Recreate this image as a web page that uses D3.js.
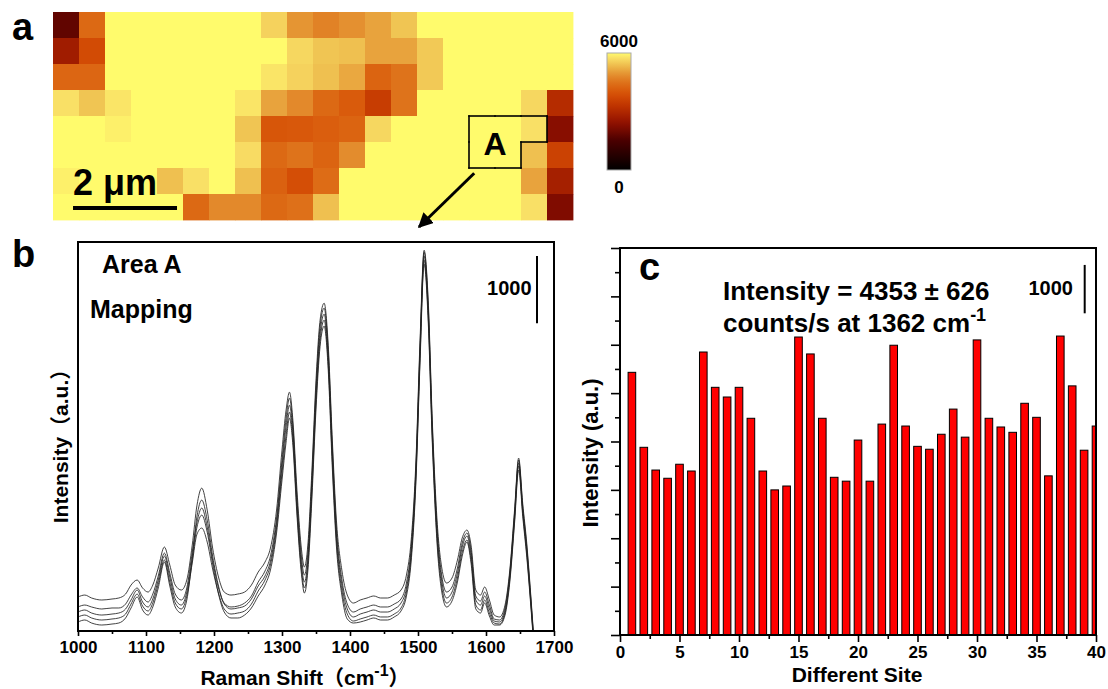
<!DOCTYPE html>
<html><head><meta charset="utf-8">
<script src="https://cdn.jsdelivr.net/npm/d3@7"></script>
<style>
html,body{margin:0;padding:0;background:#fff;}
svg{display:block;font-family:"Liberation Sans",Arial,Helvetica,sans-serif;font-weight:bold;}
</style></head><body>
<svg id="fig" width="1108" height="689"></svg>
<script>
// ---------------- (a) SERS mapping, counts/s at 1362 cm-1 ----------------
const heatRows = [
  [1800,4350,6000,6000,6000,6000,6000,6000,5600,4950,4700,4900,5100,5450,6000,6000,6000,6000,6000,6000],
  [2700,3800,6000,6000,6000,6000,6000,6000,6000,5650,5450,5400,5100,5100,5500,6000,6000,6000,6000,6000],
  [4300,4300,6000,6000,6000,6000,6000,6000,5800,5600,5400,5150,4250,4500,5500,6000,6000,6000,6000,6000],
  [5750,5450,5800,6000,6000,6000,6000,5800,5100,4800,4350,4100,3500,4500,6000,6000,6000,6000,5650,3100],
  [6000,6000,5900,6000,6000,6000,6000,5450,4000,4050,4150,4250,5650,6000,6000,6000,6000,6000,5750,2300],
  [6000,6000,6000,6000,6000,6000,6000,5700,4350,4500,4250,4850,6000,6000,6000,6000,6000,6000,5400,3600],
  [5900,6000,6000,6000,5400,5750,6000,5400,4200,3850,4400,6000,6000,6000,6000,6000,6000,6000,5100,2800],
  [6000,6000,6000,6000,6000,4350,4800,4800,4350,4450,5400,6000,6000,6000,6000,6000,6000,6000,5750,2200]
];
const colorStops  = [0, 1500, 2400, 3300, 3900, 4400, 4900, 5400, 5750, 6000];
const colorHexes  = ["#000000","#4a0000","#901000","#c03400","#d65006","#dd6c16","#e49030","#efc050","#f9e066","#fffb6c"];
const colorTicks  = ["6000", "0"];
const umPerPixelCell = 0.5;      // one mapping step = 0.5 um
const scaleBarUm = 2;
// area A: cells of the marked region (col, row)
const areaACells = [[16,4],[17,4],[18,4],[16,5],[17,5]];

// ---------------- (b) spectra of area A ----------------
const shift = [1000,1010,1020,1035,1050,1060,1070,1078,1087,1095,1103,1110,1118,1127,1135,1143,1152,1160,1168,1175,
  1182,1190,1198,1207,1215,1225,1235,1245,1255,1265,1275,1283,1292,1300,1306,1311,1316,1322,1328,1333,
  1338,1344,1350,1356,1362,1368,1374,1380,1388,1396,1405,1415,1425,1435,1445,1455,1465,1475,1483,1490,
  1497,1503,1509,1515,1521,1528,1535,1542,1550,1558,1565,1572,1578,1585,1592,1598,1605,1612,1620,1628,
  1635,1642,1648,1654,1660,1665,1670];
const spec1 = [507,536,492,462,477,492,551,685,760,641,581,685,939,1252,983,685,611,760,1281,1877,
  2130,1803,1237,790,581,536,551,581,685,879,1028,1237,1803,2697,3293,3561,3144,2101,1281,954,
  1281,2399,3740,4634,4887,4261,2846,1654,909,536,417,462,492,522,492,492,536,611,834,1356,
  2548,4336,5677,4932,3144,1654,939,715,790,1058,1386,1505,1281,611,536,656,462,238,209,387,
  909,1803,2578,1900,1300,650,-60];
const spec2 = [358,387,358,328,343,343,402,536,641,507,432,551,820,1162,864,551,462,641,1177,1624,
  1833,1550,1058,626,417,358,372,417,521,730,894,1117,1684,2548,3174,3472,3055,1982,1162,834,
  1162,2280,3621,4545,4813,4172,2742,1535,775,402,283,328,358,387,358,358,402,477,715,1251,
  2459,4246,5648,4858,3055,1550,820,581,656,939,1311,1460,1207,521,447,581,387,179,164,343,
  864,1758,2548,1850,1250,610,-90];
const spec3 = [283,313,268,238,253,268,328,462,611,432,358,477,760,1117,805,477,387,581,1103,1713,
  1952,1654,1117,656,402,328,343,372,477,671,820,1043,1609,2459,3055,3367,2965,1907,1058,730,
  1058,2190,3517,4440,4723,4082,2637,1445,700,328,209,253,283,313,283,283,328,417,641,1177,
  2384,4172,5588,4783,2980,1475,745,492,581,864,1251,1415,1147,462,387,521,328,149,134,298,
  820,1713,2504,1800,1200,570,-120];
const spec4 = [209,238,194,164,179,194,253,402,551,372,298,417,700,1058,730,417,328,521,1013,1445,
  1535,1326,924,551,328,253,268,298,402,596,760,983,1535,2355,2921,3263,2861,1803,983,641,
  983,2086,3412,4336,4634,3978,2533,1356,611,253,149,179,209,238,209,209,253,343,581,1117,
  2310,4082,5528,4694,2891,1386,656,417,507,790,1177,1356,1073,387,313,462,268,119,104,268,
  775,1654,2459,1760,1150,530,-150];
const spec5 = [134,164,119,89,104,119,194,343,507,313,238,358,641,1028,671,358,268,462,1058,1550,
  1728,1475,998,536,283,194,194,238,343,521,685,909,1460,2250,2816,3174,2771,1728,909,566,
  894,1982,3308,4246,4545,3889,2429,1266,536,179,119,134,164,194,164,164,209,298,521,1043,
  2235,4008,5469,4619,2816,1311,581,358,447,730,1117,1326,1013,328,268,417,223,89,89,238,
  730,1609,2399,1710,1100,490,-180];
const spectra = [spec1, spec2, spec3, spec4, spec5];
const shiftTicks = [1000,1100,1200,1300,1400,1500,1600,1700];
const shiftMinor = [1050,1150,1250,1350,1450,1550,1650];

// ---------------- (c) intensity at 1362 cm-1 over 40 sites ----------------
const sites = d3.range(1, 41);
const siteIntensity = [5430,3880,3410,3240,3530,3390,5850,5120,4920,5120,4480,3390,3000,3080,6160,5810,4480,3260,3180,4030,
  3180,4360,5990,4320,3900,3840,4150,4670,4090,6100,4480,4300,4190,4790,4500,3290,6180,5150,3820,4320];
const siteTicks = [0,5,10,15,20,25,30,35,40];
const siteMinor = [2.5,7.5,12.5,17.5,22.5,27.5,32.5,37.5];
const intensityMajor = [0,1000,2000,3000,4000,5000,6000,7000,8000];
const intensityMinor = [500,1500,2500,3500,4500,5500,6500,7500];

const svg = d3.select("#fig");
const defs = svg.append("defs");
const cjk = "'Liberation Sans','Noto Sans CJK SC',sans-serif";

// ===== panel a =====
const gx = d3.scaleLinear([0, 20], [53, 573]);
const gy = d3.scaleLinear([0, 8], [12, 220]);
const heat = d3.scaleLinear(colorStops, colorHexes).clamp(true);

const cells = [];
heatRows.forEach((row, r) => row.forEach((v, c) => cells.push({r, c, v})));
svg.append("g").selectAll("rect").data(cells).join("rect")
  .attr("x", d => gx(d.c)).attr("y", d => gy(d.r))
  .attr("width", gx(1) - gx(0) + 0.4).attr("height", gy(1) - gy(0) + 0.4)
  .attr("fill", d => heat(d.v));

// scale bar 2 um
const cellPx = gx(1) - gx(0);
const barPx = scaleBarUm / umPerPixelCell * cellPx;
const sbx = gx(0.77);
svg.append("line").attr("x1", sbx).attr("x2", sbx + barPx).attr("y1", 208).attr("y2", 208)
  .attr("stroke", "#000").attr("stroke-width", 4);
svg.append("text").attr("x", sbx).attr("y", 195).attr("font-size", 36).text("2 \u03bcm");

// area A outline (L-shaped region)
const cellSet = new Set(areaACells.map(d => d.join(",")));
const segs = [];
areaACells.forEach(([c, r]) => {
  if (!cellSet.has([c, r - 1].join(","))) segs.push([[c, r], [c + 1, r]]);
  if (!cellSet.has([c, r + 1].join(","))) segs.push([[c, r + 1], [c + 1, r + 1]]);
  if (!cellSet.has([c - 1, r].join(","))) segs.push([[c, r], [c, r + 1]]);
  if (!cellSet.has([c + 1, r].join(","))) segs.push([[c + 1, r], [c + 1, r + 1]]);
});
svg.append("g").selectAll("line").data(segs).join("line")
  .attr("x1", d => gx(d[0][0])).attr("y1", d => gy(d[0][1]))
  .attr("x2", d => gx(d[1][0])).attr("y2", d => gy(d[1][1]))
  .attr("stroke", "#000").attr("stroke-width", 1.6).attr("stroke-linecap", "square");
svg.append("text").attr("x", gx(17)).attr("y", gy(5.5)).attr("text-anchor", "middle")
  .attr("font-size", 32).text("A");

// arrow from area A down to the spectra
defs.append("marker").attr("id", "ah").attr("viewBox", "0 0 10 10")
  .attr("refX", 9).attr("refY", 5).attr("markerWidth", 5).attr("markerHeight", 5)
  .attr("orient", "auto").attr("markerUnits", "strokeWidth")
  .append("path").attr("d", "M0,0 L10,5 L0,10 Z").attr("fill", "#000");
svg.append("line").attr("x1", gx(16.2)).attr("y1", gy(6.2)).attr("x2", 419).attr("y2", 227)
  .attr("stroke", "#000").attr("stroke-width", 3).attr("marker-end", "url(#ah)");

// colour bar
const grad = defs.append("linearGradient").attr("id", "cbar")
  .attr("x1", 0).attr("y1", 1).attr("x2", 0).attr("y2", 0);
d3.range(0, 6001, 250).forEach(v => grad.append("stop")
  .attr("offset", v / 6000).attr("stop-color", heat(v)));
svg.append("rect").attr("x", 607).attr("y", 53).attr("width", 24).attr("height", 117)
  .attr("fill", "url(#cbar)").attr("stroke", "#aaa").attr("stroke-width", 1);
svg.append("text").attr("x", 619).attr("y", 47).attr("text-anchor", "middle")
  .attr("font-size", 17).text(colorTicks[0]);
svg.append("text").attr("x", 619).attr("y", 193).attr("text-anchor", "middle")
  .attr("font-size", 17).text(colorTicks[1]);

svg.append("text").attr("x", 12).attr("y", 40).attr("font-size", 38).text("a");

// ===== panel b =====
const xB = d3.scaleLinear([1000, 1700], [78, 554]);
const yB = d3.scaleLinear([0, 5800], [631, 242]);
defs.append("clipPath").attr("id", "clipB").append("rect")
  .attr("x", 78).attr("y", 242).attr("width", 476).attr("height", 389);
const lineB = d3.line().x((d, i) => xB(shift[i])).y(d => yB(d)).curve(d3.curveMonotoneX);
svg.append("g").attr("clip-path", "url(#clipB)").selectAll("path").data(spectra).join("path")
  .attr("d", lineB).attr("fill", "none").attr("stroke", "#222").attr("stroke-width", 1)
  .attr("stroke-opacity", 0.85);

const axB = svg.append("g").attr("transform", "translate(0,631)")
  .call(d3.axisBottom(xB).tickValues(shiftTicks).tickFormat(d3.format("d"))
    .tickSize(5).tickPadding(5).tickSizeOuter(0));
axB.select(".domain").remove();
axB.selectAll("text").attr("font-size", 17).attr("font-family", null).attr("font-weight", "bold").attr("fill", "#000");
axB.selectAll("line").attr("stroke-width", 1.6);
const axBm = svg.append("g").attr("transform", "translate(0,631)")
  .call(d3.axisBottom(xB).tickValues(shiftMinor).tickSize(3).tickFormat("").tickSizeOuter(0));
axBm.select(".domain").remove();
axBm.selectAll("line").attr("stroke-width", 1.6);
svg.append("rect").attr("x", 78).attr("y", 242).attr("width", 476).attr("height", 389)
  .attr("fill", "none").attr("stroke", "#000").attr("stroke-width", 2);

// 1000-count scale bar
svg.append("line").attr("x1", xB(1675)).attr("x2", xB(1675))
  .attr("y1", yB(4590)).attr("y2", yB(5590)).attr("stroke", "#000").attr("stroke-width", 2);
svg.append("text").attr("x", xB(1667)).attr("y", 295).attr("text-anchor", "end")
  .attr("font-size", 20).text("1000");
svg.append("text").attr("x", 102).attr("y", 273).attr("font-size", 25).text("Area A");
svg.append("text").attr("x", 90).attr("y", 318).attr("font-size", 25).text("Mapping");

const tb = svg.append("text").attr("x", 305).attr("y", 685).attr("text-anchor", "middle")
  .attr("font-size", 21).attr("font-family", cjk);
tb.append("tspan").text("Raman Shift\uff08cm");
tb.append("tspan").attr("dy", -9).attr("font-size", 16).text("-1");
tb.append("tspan").attr("dy", 9).text("\uff09");
svg.append("text").attr("transform", "translate(68,441) rotate(-90)").attr("text-anchor", "middle")
  .attr("font-size", 21).attr("font-family", cjk)
  .text("Intensity\uff08a.u.\uff09");
svg.append("text").attr("x", 12).attr("y", 267).attr("font-size", 38).text("b");

// ===== panel c =====
const xC = d3.scaleLinear([0, 40], [620, 1096]);
const yC = d3.scaleLinear([0, 8000], [635, 248]);
defs.append("clipPath").attr("id", "clipC").append("rect")
  .attr("x", 620).attr("y", 248).attr("width", 476).attr("height", 387);
const bw = xC(0.64) - xC(0);
svg.append("g").attr("clip-path", "url(#clipC)").selectAll("rect").data(siteIntensity).join("rect")
  .attr("x", (d, i) => xC(sites[i]) - bw / 2).attr("width", bw)
  .attr("y", d => yC(d)).attr("height", d => yC(0) - yC(d))
  .attr("fill", "#ff0000").attr("stroke", "#000").attr("stroke-width", 1);

const axCx = svg.append("g").attr("transform", "translate(0,635)")
  .call(d3.axisBottom(xC).tickValues(siteTicks).tickSize(7).tickPadding(4).tickSizeOuter(0));
axCx.select(".domain").remove();
axCx.selectAll("text").attr("font-size", 17).attr("font-family", null).attr("font-weight", "bold").attr("fill", "#000");
axCx.selectAll("line").attr("stroke-width", 1.6);
const axCxm = svg.append("g").attr("transform", "translate(0,635)")
  .call(d3.axisBottom(xC).tickValues(siteMinor).tickSize(4).tickFormat("").tickSizeOuter(0));
axCxm.select(".domain").remove();
axCxm.selectAll("line").attr("stroke-width", 1.6);
const axCy = svg.append("g").attr("transform", "translate(620,0)")
  .call(d3.axisLeft(yC).tickValues(intensityMajor).tickSize(9).tickFormat("").tickSizeOuter(0));
axCy.select(".domain").remove();
axCy.selectAll("line").attr("stroke-width", 1.6);
const axCym = svg.append("g").attr("transform", "translate(620,0)")
  .call(d3.axisLeft(yC).tickValues(intensityMinor).tickSize(5).tickFormat("").tickSizeOuter(0));
axCym.select(".domain").remove();
axCym.selectAll("line").attr("stroke-width", 1.6);
svg.append("rect").attr("x", 620).attr("y", 248).attr("width", 476).attr("height", 387)
  .attr("fill", "none").attr("stroke", "#000").attr("stroke-width", 2);

// 1000-count scale bar
svg.append("line").attr("x1", xC(39.05)).attr("x2", xC(39.05))
  .attr("y1", yC(6650)).attr("y2", yC(7650)).attr("stroke", "#000").attr("stroke-width", 2);
svg.append("text").attr("x", 1073).attr("y", 295).attr("text-anchor", "end")
  .attr("font-size", 20).text("1000");

svg.append("text").attr("x", 723).attr("y", 300).attr("font-size", 26).text("Intensity = 4353 \u00b1 626");
const t2 = svg.append("text").attr("x", 723).attr("y", 332).attr("font-size", 26);
t2.append("tspan").text("counts/s at 1362 cm");
t2.append("tspan").attr("dy", -11).attr("font-size", 18).text("-1");

svg.append("text").attr("x", 857).attr("y", 682).attr("text-anchor", "middle")
  .attr("font-size", 21).text("Different Site");
svg.append("text").attr("transform", "translate(598,453) rotate(-90)").attr("text-anchor", "middle")
  .attr("font-size", 22).text("Intensity (a.u.)");
svg.append("text").attr("x", 639).attr("y", 280).attr("font-size", 38).text("c");
</script>
</body></html>
